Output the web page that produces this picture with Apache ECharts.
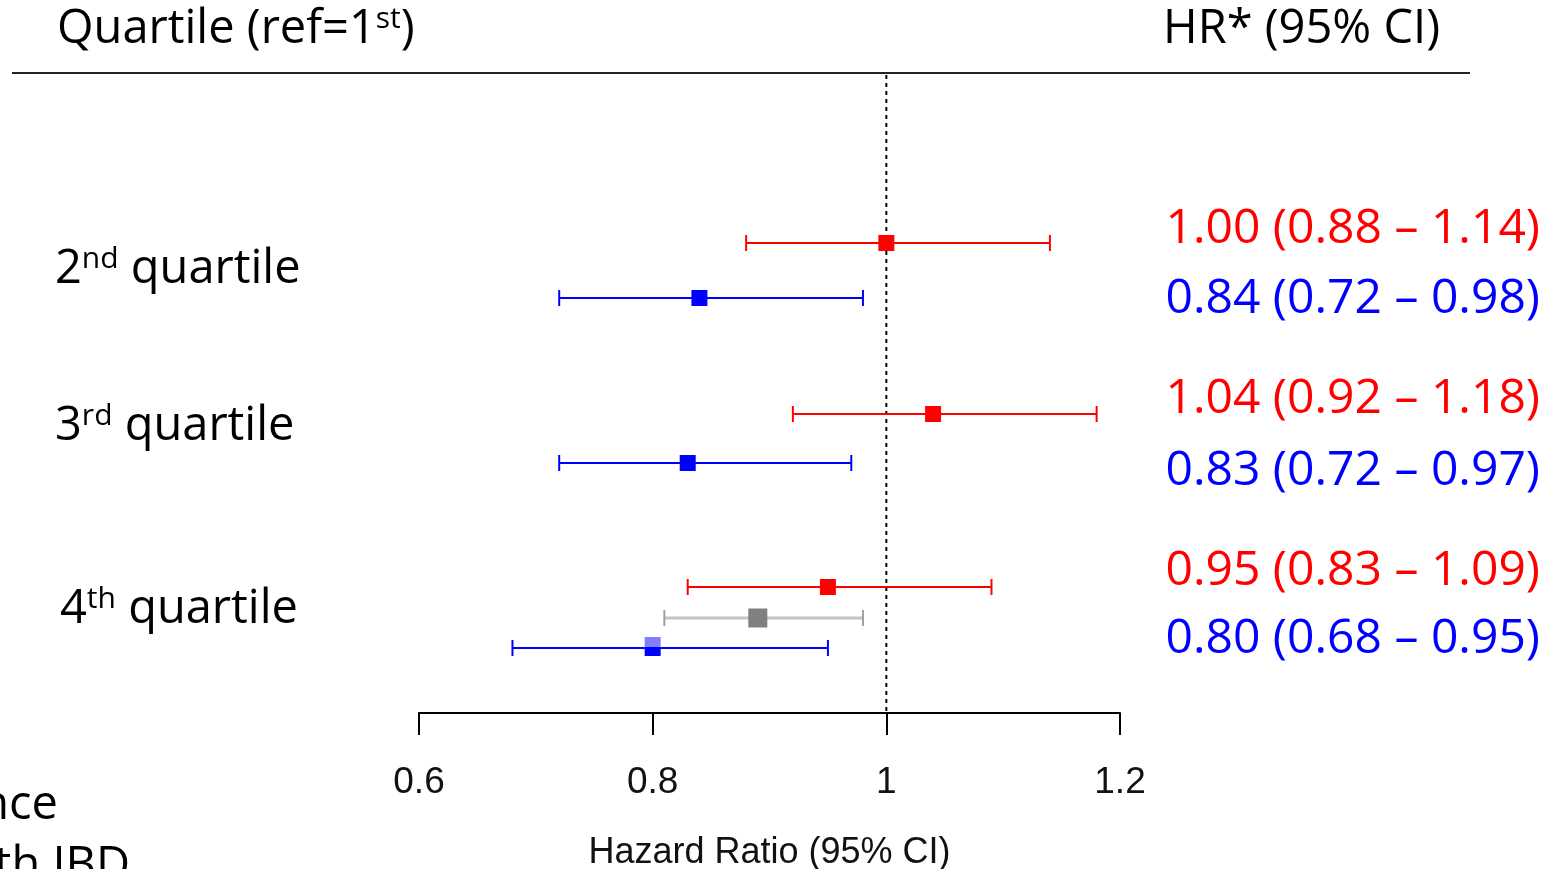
<!DOCTYPE html>
<html>
<head>
<meta charset="utf-8">
<script src="https://cdn.jsdelivr.net/npm/echarts@6/dist/echarts.min.js"></script>
<style>html,body{margin:0;padding:0;background:#fff}#c{width:1547px;height:869px}</style>
</head>
<body>
<div id="c"></div>
<script>
// ---- data ----
const categories = ['2nd', '3rd', '4th'];
const redHR = [1.00, 1.04, 0.95];
const redLo = [0.88, 0.92, 0.83];
const redHi = [1.14, 1.18, 1.09];
const blueHR = [0.84, 0.83, 0.80];
const blueLo = [0.72, 0.72, 0.68];
const blueHi = [0.98, 0.97, 0.95];
const grayHR = [null, null, 0.89];
const grayLo = [null, null, 0.81];
const grayHi = [null, null, 0.98];
const xTicks = [0.6, 0.8, 1.0, 1.2];
const refLine = 1;
const headerLeft = 'Quartile (ref=1';
const headerLeftSup = 'st';
const headerRight = 'HR* (95% CI)';
const axisTitle = 'Hazard Ratio (95% CI)';
const legendTexts = ['Incidence', 'with IBD'];

// ---- layout (pixel rows, not data) ----
const GRID_TOP = 73, GRID_BOTTOM = 156, H = 869;
const rowRed = [243, 414, 587], rowBlue = [298, 463, 648], rowGray = [null, null, 618];
const textRedY = [229, 399, 571], textBlueY = [299, 471, 639];
const labelY = [270, 427, 610], labelX = [55, 55, 60];
const FONT = '"Open Sans", "Noto Sans", sans-serif';
const FS = 47;
const toAxisY = p => p - GRID_TOP;

function mk(hr, lo, hi, rows) {
  const out = [];
  for (let i = 0; i < hr.length; i++) if (hr[i] != null) out.push([lo[i], hi[i], hr[i], toAxisY(rows[i]), i]);
  return out;
}
function fmt(v) { return v.toFixed(2); }

function renderer(color, lineColor, lw, sq, capColor, twoTone) {
  return function (params, api) {
    const lo = api.coord([api.value(0), api.value(3)]);
    const hi = api.coord([api.value(1), api.value(3)]);
    const est = api.coord([api.value(2), api.value(3)]);
    const cap = 8;
    const children = [
      { type: 'line', shape: { x1: lo[0], y1: lo[1], x2: hi[0], y2: hi[1] }, style: { stroke: lineColor, lineWidth: lw } },
      { type: 'line', shape: { x1: lo[0], y1: lo[1] - cap, x2: lo[0], y2: lo[1] + cap }, style: { stroke: capColor, lineWidth: 2 } },
      { type: 'line', shape: { x1: hi[0], y1: hi[1] - cap, x2: hi[0], y2: hi[1] + cap }, style: { stroke: capColor, lineWidth: 2 } }
    ];
    if (twoTone && api.value(4) === 2) {
      children.push({ type: 'rect', shape: { x: est[0] - sq / 2, y: est[1] - 11, width: sq, height: 11 }, style: { fill: '#8080ff' } });
      children.push({ type: 'rect', shape: { x: est[0] - sq / 2, y: est[1] - 1, width: sq, height: 9 }, style: { fill: color } });
    } else {
      children.push({ type: 'rect', shape: { x: est[0] - sq / 2, y: est[1] - sq / 2, width: sq, height: sq }, style: { fill: color } });
    }
    return { type: 'group', children };
  };
}

const richStyle = {
  b: { fontSize: FS, fontFamily: FONT, fill: '#000', lineHeight: 56 },
  s: { fontSize: 30, fontFamily: FONT, fill: '#000', lineHeight: 56, verticalAlign: 'top', padding: [2, 0, 0, 0] }
};

const graphics = [];
graphics.push({ type: 'line', shape: { x1: 12, y1: GRID_TOP, x2: 1470, y2: GRID_TOP }, style: { stroke: '#222', lineWidth: 2 } });
graphics.push({ type: 'text', left: 57, top: 2, style: { text: '{b|' + headerLeft + '}{s|' + headerLeftSup + '}{b|)}', rich: richStyle } });
graphics.push({ type: 'text', left: 1163, top: 2, style: { text: headerRight, fontSize: FS, fontFamily: FONT, fill: '#000', lineHeight: 56 } });
const sups = ['nd', 'rd', 'th'];
const nums = ['2', '3', '4'];
categories.forEach((c, i) => {
  graphics.push({ type: 'text', left: labelX[i], top: labelY[i] - 28, style: { text: '{b|' + nums[i] + '}{s|' + sups[i] + '}{b| quartile}', rich: richStyle } });
});
function addHR(hr, lo, hi, ys, color) {
  for (let i = 0; i < hr.length; i++) {
    graphics.push({ type: 'text', right: 1547 - 1540, top: ys[i] - 28, style: { text: fmt(hr[i]) + ' (' + fmt(lo[i]) + ' \u2013 ' + fmt(hi[i]) + ')', fontSize: 48, fontFamily: FONT, fill: color, lineHeight: 56 } });
  }
}
addHR(redHR, redLo, redHi, textRedY, '#ff0000');
addHR(blueHR, blueLo, blueHi, textBlueY, '#0000ff');
graphics.push({ type: 'text', right: 1547 - 58, top: 779, style: { text: legendTexts[0], fontSize: FS, fontFamily: FONT, fill: '#000', lineHeight: 54 } });
graphics.push({ type: 'text', right: 1547 - 130, top: 840, style: { text: legendTexts[1], fontSize: FS, fontFamily: FONT, fill: '#000', lineHeight: 54 } });

const AXFONT = '"Liberation Sans", Arial, sans-serif';
const chart = echarts.init(document.getElementById('c'), null, { renderer: 'canvas' });
chart.setOption({
  animation: false,
  backgroundColor: '#fff',
  grid: { left: 419, right: 427, top: GRID_TOP, bottom: GRID_BOTTOM, containLabel: false, outerBoundsMode: 'none' },
  xAxis: {
    type: 'value', position: 'bottom', min: xTicks[0], max: xTicks[xTicks.length - 1], interval: 0.2,
    axisLine: { show: true, onZero: false, lineStyle: { color: '#000', width: 2 } },
    axisTick: { show: true, length: 22, lineStyle: { color: '#000', width: 2 } },
    axisLabel: { margin: 51, fontSize: 37, color: '#111', fontFamily: AXFONT, formatter: v => String(+v.toFixed(1)) },
    splitLine: { show: false },
    name: axisTitle, nameLocation: 'middle', nameGap: 122,
    nameTextStyle: { fontSize: 36, color: '#111', fontFamily: AXFONT }
  },
  yAxis: { type: 'value', min: 0, max: H - GRID_TOP - GRID_BOTTOM, inverse: true, show: false },
  series: [
    {
      type: 'line', data: [[refLine, 2], [refLine, H - GRID_TOP - GRID_BOTTOM]], symbol: 'none',
      lineStyle: { color: '#000', width: 2, type: [4, 4] }, silent: true, z: 1
    },
    { type: 'custom', name: 'red', data: mk(redHR, redLo, redHi, rowRed), renderItem: renderer('#ff0000', '#ff0000', 2, 16, '#ff0000', false), z: 3 },
    { type: 'custom', name: 'gray', data: mk(grayHR, grayLo, grayHi, rowGray), renderItem: renderer('#808080', '#c4c4c4', 3, 19, '#a0a0a0', false), z: 2 },
    { type: 'custom', name: 'blue', data: mk(blueHR, blueLo, blueHi, rowBlue), renderItem: renderer('#0000ff', '#0000ff', 2, 16, '#0000ff', true), z: 3 }
  ],
  graphic: graphics
});
</script>
</body>
</html>
